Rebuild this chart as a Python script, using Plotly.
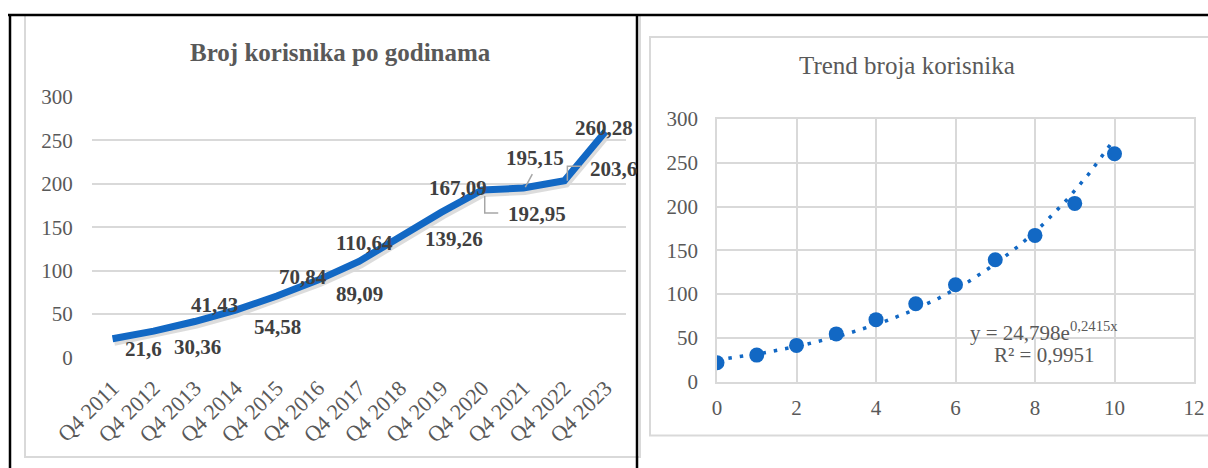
import numpy as np
import plotly.graph_objects as go

# ---------------- data ----------------
quarters = ["Q4 2011", "Q4 2012", "Q4 2013", "Q4 2014", "Q4 2015", "Q4 2016", "Q4 2017",
            "Q4 2018", "Q4 2019", "Q4 2020", "Q4 2021", "Q4 2022", "Q4 2023"]
users = [21.6, 30.36, 41.43, 54.58, 70.84, 89.09, 110.64, 139.26, 167.09, 192.95, 195.15, 203.6, 260.28]
user_labels = ["21,6", "30,36", "41,43", "54,58", "70,84", "89,09", "110,64", "139,26",
               "167,09", "192,95", "195,15", "203,6", "260,28"]

trend_x = [0, 1, 2, 3, 4, 5, 6, 7, 8, 9, 10]
trend_users = [21.6, 30.36, 41.43, 54.58, 70.84, 89.09, 110.64, 139.26, 167.09, 203.6, 260.28]
trend_a = 24.798      # from displayed equation y = 24,798 e^(0,2415 x)
trend_b = 0.2415
trend_eq = "y = 24,798e<sup>0,2415x</sup>"
trend_r2 = "R² = 0,9951"

y_ticks = [0, 50, 100, 150, 200, 250, 300]
x_ticks_right = [0, 2, 4, 6, 8, 10, 12]

left_title = "Broj korisnika po godinama"
right_title = "Trend broja korisnika"

# label offsets in pixels (styling only): (dx, dy up)
label_offsets = [(31, -10), (44, -16), (20, 17), (42, -17), (26, 19), (42, -14), (5, 18),
                 (54, -2), (17, 24), (55, -24), (12, 30), (49, 12), (-1, 3)]

# ---------------- layout helpers ----------------
W, H = 1208, 468
def fx(p):
    return p / W
def fy(p):
    return 1 - p / H

BLUE = "#1268C4"
GRID = "#D9D9D9"
TXT = "#595959"
LBL = "#404040"
FONT = "Liberation Serif"

idx = list(range(len(quarters)))

fig = go.Figure()

# shadow of the line (subplot 1, slightly offset axes, invisible)
fig.add_trace(go.Scatter(x=idx, y=users, mode="lines", xaxis="x", yaxis="y",
                         line=dict(color="rgba(60,60,60,0.18)", width=9, shape="linear"),
                         hoverinfo="skip", showlegend=False))

# right chart: trendline + points
tx = np.linspace(min(trend_x), max(trend_x), 121)
ty = trend_a * np.exp(trend_b * tx)
fig.add_trace(go.Scatter(x=tx, y=ty, mode="lines", xaxis="x2", yaxis="y2",
                         line=dict(color=BLUE, width=3.5, dash="3.5px,8px"),
                         hoverinfo="skip", showlegend=False))
fig.add_trace(go.Scatter(x=trend_x, y=trend_users, mode="markers", xaxis="x2", yaxis="y2",
                         marker=dict(color=BLUE, size=15), showlegend=False))

# left chart: main line
fig.add_trace(go.Scatter(x=idx, y=users, mode="lines", xaxis="x3", yaxis="y3",
                         line=dict(color=BLUE, width=7), showlegend=False))

axis_font = dict(family=FONT, size=21, color=TXT)

fig.update_layout(
    template="none",
    width=W, height=H,
    margin=dict(l=0, r=0, t=0, b=0, pad=0, autoexpand=False),
    paper_bgcolor="white", plot_bgcolor="rgba(0,0,0,0)",
    showlegend=False,
    # shadow axes
    xaxis=dict(domain=[fx(93.5), fx(627.5)], range=[-0.5, 12.5], visible=False, anchor="y",
               automargin=False),
    yaxis=dict(domain=[fy(360), fy(99.5)], range=[0, 300], visible=False, anchor="x",
               automargin=False),
    # right chart axes
    xaxis2=dict(domain=[fx(717), fx(1194)], range=[0, 12], anchor="y2", automargin=False,
                tickvals=x_ticks_right, ticktext=[str(v) for v in x_ticks_right],
                showgrid=True, gridcolor=GRID, gridwidth=1.5,
                showline=True, linecolor=GRID, linewidth=1.5, mirror=True,
                zeroline=False, ticks="outside", ticklen=6, tickcolor="rgba(0,0,0,0)",
                tickfont=axis_font),
    yaxis2=dict(domain=[fy(381.7), fy(119)], range=[0, 300], anchor="x2", automargin=False,
                tickvals=y_ticks, showgrid=True, gridcolor=GRID, gridwidth=1.5,
                showline=True, linecolor=GRID, linewidth=1.5, mirror=True,
                zeroline=False, ticks="outside", ticklen=13, tickcolor="rgba(0,0,0,0)",
                tickfont=axis_font),
    # left chart axes
    xaxis3=dict(domain=[fx(92), fx(626)], range=[-0.5, 12.5], anchor="y3", automargin=False,
                tickvals=idx, ticktext=quarters, tickangle=-45,
                showgrid=False, showline=False, zeroline=False,
                ticks="outside", ticklen=8, tickcolor="rgba(0,0,0,0)",
                tickfont=dict(family=FONT, size=22, color=TXT)),
    yaxis3=dict(domain=[fy(357.5), fy(97)], range=[0, 300], anchor="x3", automargin=False,
                tickvals=y_ticks, showgrid=True, gridcolor=GRID, gridwidth=1.5,
                showline=False, zeroline=False,
                ticks="outside", ticklen=14, tickcolor="rgba(0,0,0,0)",
                tickfont=axis_font),
)

annotations = []
# data labels for the left chart
for i, (v, lab) in enumerate(zip(users, user_labels)):
    dx, dy = label_offsets[i]
    annotations.append(dict(x=i, y=v, xref="x3", yref="y3", text="<b>" + lab + "</b>", showarrow=False,
                            xshift=dx, yshift=dy, xanchor="center", yanchor="middle",
                            font=dict(family=FONT, size=21, color=LBL)))
# titles
annotations.append(dict(x=fx(340), y=fy(52), xref="paper", yref="paper", text="<b>" + left_title + "</b>",
                        showarrow=False, xanchor="center", yanchor="middle",
                        font=dict(family=FONT, size=25, color=TXT)))
annotations.append(dict(x=fx(907), y=fy(66), xref="paper", yref="paper", text=right_title,
                        showarrow=False, xanchor="center", yanchor="middle",
                        font=dict(family=FONT, size=25, color=TXT)))
# trend equation
annotations.append(dict(x=fx(1044), y=fy(331), xref="paper", yref="paper", text=trend_eq,
                        showarrow=False, xanchor="center", yanchor="middle",
                        font=dict(family=FONT, size=21, color=TXT)))
annotations.append(dict(x=fx(1044), y=fy(355), xref="paper", yref="paper", text=trend_r2,
                        showarrow=False, xanchor="center", yanchor="middle",
                        font=dict(family=FONT, size=21, color=TXT)))
fig.update_layout(annotations=annotations)

shapes = []
# leader lines (pixel paths anchored at data points)
leaders = {9: "M 2.5,-6 L 2.5,-23 L 16,-23", 10: "M 2,1 L 9,14", 11: "M 3,0 L 3,14.5 L 17,14.5"}
for i, path in leaders.items():
    shapes.append(dict(type="path", xref="x3", yref="y3", xsizemode="pixel", ysizemode="pixel",
                       xanchor=i, yanchor=users[i], path=path,
                       line=dict(color="#A6A6A6", width=1.5)))
# chart frames (gray)
shapes.append(dict(type="rect", xref="paper", yref="paper", x0=fx(25), x1=fx(640), y0=fy(457), y1=fy(15),
                   line=dict(color=GRID, width=2), layer="below"))
shapes.append(dict(type="rect", xref="paper", yref="paper", x0=fx(650), x1=fx(1215), y0=fy(435.5), y1=fy(37),
                   line=dict(color=GRID, width=2), layer="below"))
# table borders (black)
shapes.append(dict(type="line", xref="paper", yref="paper", x0=fx(8), x1=1, y0=fy(15), y1=fy(15),
                   line=dict(color="black", width=2.5)))
shapes.append(dict(type="line", xref="paper", yref="paper", x0=fx(10), x1=fx(10), y0=fy(14), y1=0,
                   line=dict(color="black", width=2.5)))
shapes.append(dict(type="line", xref="paper", yref="paper", x0=fx(637), x1=fx(637), y0=fy(14), y1=0,
                   line=dict(color="black", width=2.5)))
fig.update_layout(shapes=shapes)

fig.write_html("out.html", config={"displayModeBar": False},
               post_script="document.body.style.margin='0';document.body.style.overflow='hidden';")
